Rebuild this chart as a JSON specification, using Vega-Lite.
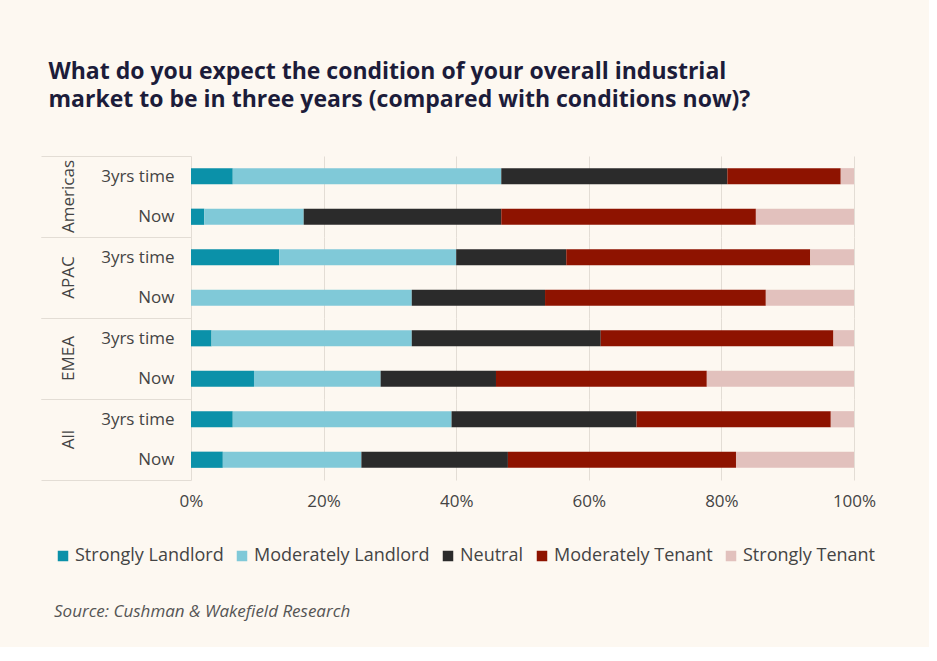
{
  "$schema": "https://vega.github.io/schema/vega-lite/v6.json",
  "background": "#fdf8f1",
  "padding": {"left": 40, "top": 61, "right": 53, "bottom": 27},
  "title": {
    "text": ["What do you expect the condition of your overall industrial", "market to be in three years (compared with conditions now)?"],
    "anchor": "start",
    "frame": "bounds",
    "font": "Open Sans",
    "fontSize": 23,
    "fontWeight": "bold",
    "color": "#1c1c3a",
    "lineHeight": 28,
    "offset": 35,
    "dx": 8
  },
  "data": {
    "values": [
      {"region": "Americas", "period": "3yrs time", "category": "Strongly Landlord", "value": 6.3},
      {"region": "Americas", "period": "3yrs time", "category": "Moderately Landlord", "value": 40.5},
      {"region": "Americas", "period": "3yrs time", "category": "Neutral", "value": 34.1},
      {"region": "Americas", "period": "3yrs time", "category": "Moderately Tenant", "value": 17.1},
      {"region": "Americas", "period": "3yrs time", "category": "Strongly Tenant", "value": 2.0},
      {"region": "Americas", "period": "Now", "category": "Strongly Landlord", "value": 2.0},
      {"region": "Americas", "period": "Now", "category": "Moderately Landlord", "value": 15.0},
      {"region": "Americas", "period": "Now", "category": "Neutral", "value": 29.8},
      {"region": "Americas", "period": "Now", "category": "Moderately Tenant", "value": 38.4},
      {"region": "Americas", "period": "Now", "category": "Strongly Tenant", "value": 14.8},
      {"region": "APAC", "period": "3yrs time", "category": "Strongly Landlord", "value": 13.3},
      {"region": "APAC", "period": "3yrs time", "category": "Moderately Landlord", "value": 26.7},
      {"region": "APAC", "period": "3yrs time", "category": "Neutral", "value": 16.6},
      {"region": "APAC", "period": "3yrs time", "category": "Moderately Tenant", "value": 36.8},
      {"region": "APAC", "period": "3yrs time", "category": "Strongly Tenant", "value": 6.6},
      {"region": "APAC", "period": "Now", "category": "Strongly Landlord", "value": 0},
      {"region": "APAC", "period": "Now", "category": "Moderately Landlord", "value": 33.3},
      {"region": "APAC", "period": "Now", "category": "Neutral", "value": 20.1},
      {"region": "APAC", "period": "Now", "category": "Moderately Tenant", "value": 33.3},
      {"region": "APAC", "period": "Now", "category": "Strongly Tenant", "value": 13.3},
      {"region": "EMEA", "period": "3yrs time", "category": "Strongly Landlord", "value": 3.1},
      {"region": "EMEA", "period": "3yrs time", "category": "Moderately Landlord", "value": 30.2},
      {"region": "EMEA", "period": "3yrs time", "category": "Neutral", "value": 28.5},
      {"region": "EMEA", "period": "3yrs time", "category": "Moderately Tenant", "value": 35.1},
      {"region": "EMEA", "period": "3yrs time", "category": "Strongly Tenant", "value": 3.1},
      {"region": "EMEA", "period": "Now", "category": "Strongly Landlord", "value": 9.5},
      {"region": "EMEA", "period": "Now", "category": "Moderately Landlord", "value": 19.1},
      {"region": "EMEA", "period": "Now", "category": "Neutral", "value": 17.4},
      {"region": "EMEA", "period": "Now", "category": "Moderately Tenant", "value": 31.8},
      {"region": "EMEA", "period": "Now", "category": "Strongly Tenant", "value": 22.2},
      {"region": "All", "period": "3yrs time", "category": "Strongly Landlord", "value": 6.3},
      {"region": "All", "period": "3yrs time", "category": "Moderately Landlord", "value": 33.0},
      {"region": "All", "period": "3yrs time", "category": "Neutral", "value": 27.9},
      {"region": "All", "period": "3yrs time", "category": "Moderately Tenant", "value": 29.3},
      {"region": "All", "period": "3yrs time", "category": "Strongly Tenant", "value": 3.5},
      {"region": "All", "period": "Now", "category": "Strongly Landlord", "value": 4.8},
      {"region": "All", "period": "Now", "category": "Moderately Landlord", "value": 20.9},
      {"region": "All", "period": "Now", "category": "Neutral", "value": 22.1},
      {"region": "All", "period": "Now", "category": "Moderately Tenant", "value": 34.4},
      {"region": "All", "period": "Now", "category": "Strongly Tenant", "value": 17.8}
    ]
  },
  "transform": [
    {"calculate": "indexof(['Strongly Landlord','Moderately Landlord','Neutral','Moderately Tenant','Strongly Tenant'], datum.category)", "as": "stackOrder"}
  ],
  "facet": {
    "row": {
      "field": "region",
      "type": "nominal",
      "sort": ["Americas", "APAC", "EMEA", "All"],
      "header": {
        "title": null,
        "labelAngle": -90,
        "labelFont": "Open Sans",
        "labelFontSize": 17,
        "labelColor": "#444444",
        "labelPadding": -45
      }
    }
  },
  "spacing": 0,
  "spec": {
    "width": 663,
    "height": 81,
    "mark": {"type": "bar", "height": {"band": 0.4}},
    "encoding": {
      "y": {
        "field": "period",
        "type": "nominal",
        "sort": ["3yrs time", "Now"],
        "scale": {"paddingInner": 0, "paddingOuter": 0},
        "axis": {
          "title": null,
          "domain": false,
          "tickBand": "extent",
          "tickSize": 150,
          "tickWidth": 1,
          "tickColor": {"condition": {"test": "datum.value === '3yrs time'", "value": "transparent"}, "value": "#e3ddd5"},
          "labelPadding": -133,
          "labelFont": "Open Sans",
          "labelFontSize": 17,
          "labelColor": "#444444"
        }
      },
      "x": {
        "field": "value",
        "type": "quantitative",
        "stack": "normalize",
        "axis": {
          "title": null,
          "values": [0, 0.2, 0.4, 0.6, 0.8, 1],
          "format": ".0%",
          "domain": false,
          "ticks": false,
          "grid": true,
          "gridColor": "#e3ddd5",
          "labelFlush": false,
          "labelFont": "Open Sans",
          "labelFontSize": 17,
          "labelColor": "#444444",
          "labelPadding": 13
        }
      },
      "order": {"field": "stackOrder", "type": "quantitative"},
      "color": {
        "field": "category",
        "type": "nominal",
        "sort": ["Strongly Landlord", "Moderately Landlord", "Neutral", "Moderately Tenant", "Strongly Tenant"],
        "scale": {
          "domain": ["Strongly Landlord", "Moderately Landlord", "Neutral", "Moderately Tenant", "Strongly Tenant"],
          "range": ["#0b91a9", "#80c9d8", "#2b2b2b", "#8e1300", "#e2c1bd"]
        },
        "legend": {
          "orient": "none",
          "legendX": -137,
          "legendY": 391,
          "direction": "horizontal",
          "title": "Source: Cushman & Wakefield Research",
          "titleOrient": "bottom",
          "titleAnchor": "start",
          "titleFont": "Open Sans",
          "titleFontStyle": "italic",
          "titleFontWeight": "normal",
          "titleFontSize": 17,
          "titleColor": "#555555",
          "titlePadding": 39,
          "titleLimit": 0,
          "labelLimit": 0,
          "labelFont": "Open Sans",
          "labelFontSize": 18,
          "labelColor": "#444444",
          "symbolType": "square",
          "symbolSize": 110,
          "symbolStrokeWidth": 0,
          "columnPadding": 9,
          "labelOffset": 3
        }
      }
    }
  },
  "config": {"view": {"stroke": null}}
}
